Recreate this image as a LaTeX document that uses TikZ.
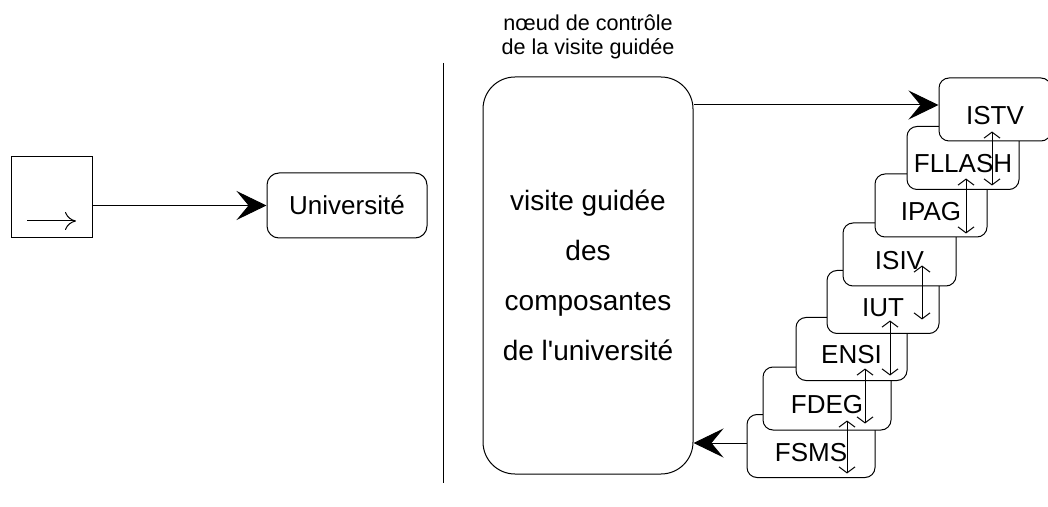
\documentclass[tikz,border=0pt]{standalone}
\usepackage{fontspec}
\setmainfont{Liberation Sans}
\usetikzlibrary{arrows.meta,positioning}

\begin{document}
\begin{tikzpicture}[x=0.5pt, y=-0.5pt, line width=0.5pt,
comp/.style = {% boxes of the components
    draw, fill=white, rounded corners=5pt, minimum width=56pt,
    minimum height=31.5pt, text height=15pt, text depth=0pt,
    font=\fontsize{13}{15}\selectfont,
            },
big/.style  = {-{Stealth[length=15pt,width=14.5pt,inset=6pt]}},
pair/.style = {{Straight Barb[length=3pt,width=8pt]}-{Straight Barb[length=3pt,width=8pt]}},
                        ]
 \useasboundingbox (0,0) rectangle (1048,507);

 % left part
 \node[draw, minimum size=40.5pt, inner sep=0pt] (start) at (51.5,197.5) {};
 \node[draw, rounded corners=6pt, minimum width=80pt, minimum height=32.5pt,
       font=\fontsize{13}{15}\selectfont] (univ) at (347,205.5) {Université};
 \coordinate (s1) at ([xshift=-12.25pt,yshift=-11.75pt]start.center);
 \draw[-{Computer Modern Rightarrow[length=5.5pt,width=9pt]}] (s1) -- ++(49,0);
 \draw[big] (start.east |- univ.west) -- (univ.west);

 \draw (443,63) -- (443,483);

 % guided tour
 \node[draw, rounded corners=16pt, minimum width=105pt, minimum height=198.5pt,
       align=center, font=\fontsize{14}{25}\selectfont] (guide) at (588,275.5)
       {visite guidée\\des\\composantes\\de l\textquotesingle université};
 \node[align=center, inner sep=0pt, font=\fontsize{10.8}{12}\selectfont,
       above=8.5pt of guide] (title) {nœud de contrôle\\de la visite guidée};

 \node[comp, minimum width=64pt]   (fsms)   at (811,446)     {FSMS};
 \node[comp, minimum width=64pt]   (fdeg)   at (827,398.5)   {FDEG};
 \node[comp, minimum width=55.5pt] (ensi)   at (851.5,349)   {ENSI};
 \node[comp]                       (iut)    at (883,302)     {IUT};
 \node[comp, minimum width=56.5pt] (isiv)   at (899.5,254.5) {ISIV};
 \node[comp]                       (ipag)   at (931,205.5)   {IPAG};
 \node[comp]                       (fllash) at (963,158)     {FLLASH};
 \node[comp]                       (istv)   at (995,109.5)   {ISTV};

 \coordinate (in) at ([yshift=2.25pt]istv.west);
 \draw[big] (guide.east |- in) -- (in);
 \coordinate (back) at ([yshift=1.5pt]fsms.west);
 \draw[big] (back) -- (guide.east |- back);

 \draw[pair] ([xshift=-1.5pt,yshift=5pt]istv.south) -- ([xshift=14.5pt,yshift=2.25pt]fllash.south);
 \draw[pair] ([xshift=1.5pt,yshift=5.75pt]fllash.south) -- ([xshift=17.5pt,yshift=2pt]ipag.south);
 \draw[pair] ([xshift=11.25pt,yshift=10.5pt]isiv.south) -- ([xshift=19.5pt,yshift=7.25pt]iut.south);
 \draw[pair] ([xshift=3.5pt,yshift=6.75pt]iut.south) -- ([xshift=19.25pt,yshift=2.75pt]ensi.south);
 \draw[pair] ([xshift=6.75pt,yshift=6.25pt]ensi.south) -- ([xshift=19pt,yshift=3.5pt]fdeg.south);
 \draw[pair] ([xshift=10pt,yshift=5pt]fdeg.south) -- ([xshift=18pt,yshift=2.25pt]fsms.south);

\end{tikzpicture}
\end{document}
